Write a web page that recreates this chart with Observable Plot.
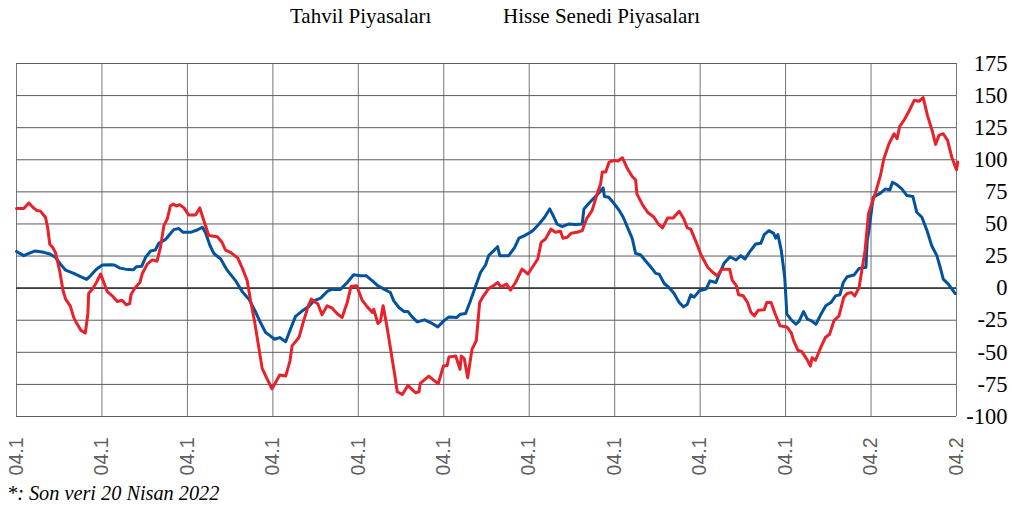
<!DOCTYPE html>
<html>
<head>
<meta charset="utf-8">
<script src="https://cdn.jsdelivr.net/npm/d3@7"></script>
<script src="https://cdn.jsdelivr.net/npm/@observablehq/plot@0.6"></script>
<style>
  html, body { margin: 0; padding: 0; background: #fff; }
  #wrap { position: relative; width: 1012px; height: 509px; overflow: hidden; }
  #legend { position: relative; height: 40px; font-family: "Liberation Serif", "Times New Roman", serif; font-size: 21px; color: #000; }
  #legend span { position: absolute; top: 4px; line-height: 24px; white-space: nowrap; }
  #caption { position: absolute; left: 7px; top: 482px; font-family: "Liberation Serif", "Times New Roman", serif; font-style: italic; font-size: 20.3px; line-height: 22px; color: #000; white-space: nowrap; }
  svg { display: block; }
  .yax text { font-family: "Liberation Serif", "Times New Roman", serif; }
  .xax text { font-family: "Liberation Sans", Arial, sans-serif; }
</style>
</head>
<body>
<div id="wrap">
  <div id="legend"></div>
  <div id="chart"></div>
  <div id="caption"></div>
</div>
<script>
// Series names (legend)
const seriesNames = ["Tahvil Piyasaları", "Hisse Senedi Piyasaları"];
const captionText = "*: Son veri 20 Nisan 2022";

// X tick positions (period index) and their labels
const tickPos = [0, 20, 40, 60, 80, 100, 120, 140, 160, 180, 200, 220];
const tickLabels = ["04.1", "04.1", "04.1", "04.1", "04.1", "04.1", "04.1", "04.1", "04.1", "04.1", "04.2", "04.2"];
const yTicks = [-100, -75, -50, -25, 0, 25, 50, 75, 100, 125, 150, 175];

// Blue series
const blueT = [0,1.7,2.9,4.4,6.4,7.8,9.1,10.3,11.5,13.4,15.0,16.4,17.3,18.7,20.1,22.0,22.9,24.2,25.5,27.3,28.1,29.3,30.2,31.4,32.5,33.3,34.9,35.9,36.8,38.0,39.0,40.7,42.3,43.5,44.2,45.3,46.2,47.8,49.3,51.3,52.8,54.4,55.9,57.1,58.3,59.4,60.4,61.6,63.0,64.1,65.3,66.9,68.4,69.6,71.2,72.7,73.9,75.8,77.4,78.9,80.5,81.9,83.3,84.4,86.0,87.5,88.3,89.5,90.7,91.6,92.6,93.8,95.5,96.9,98.6,100.0,101.2,103.0,103.9,105.1,106.1,107.2,108.6,109.8,110.5,111.7,112.6,113.1,115.2,116.6,117.6,118.9,120.3,121.0,122.3,123.6,124.8,125.6,126.5,127.7,129.3,130.8,132.4,132.8,134.2,135.5,136.7,137.3,137.6,138.6,139.8,141.0,142.0,143.0,144.1,144.9,146.1,147.2,148.4,149.6,150.4,151.6,152.7,153.9,155.1,156.1,157.0,157.8,158.6,159.8,161.4,162.3,163.7,164.4,165.6,167.0,168.4,169.5,170.5,171.5,173.0,174.2,175.0,176.1,177.2,177.7,178.2,179.0,179.8,180.3,181.2,182.4,183.2,184.2,185.1,186.1,187.1,188.2,189.4,190.6,191.7,192.7,193.5,194.4,196.0,197.2,198.3,198.8,199.1,199.5,200.5,202.2,203.4,204.4,205.0,206.0,207.2,208.4,209.8,210.7,211.9,213.1,214.2,215.4,216.2,216.9,218.1,219.7];
const blueV = [28.6,25.3,27,29,27.9,26.6,24,18.7,14,11.5,8.9,6.8,9.6,14.8,18,18.2,18,15.6,14.8,14.3,16.7,17,24,29,29.7,35,38,42,45.6,46.4,43.5,43.5,45.3,47.4,43.5,33,27,22.7,14,5.7,-2.6,-8.6,-18.2,-26.8,-34.6,-37.2,-39.8,-38.5,-41.7,-32,-22,-17.7,-14.3,-9.9,-7.8,-2.6,-0.8,-1,4.4,10.4,9.6,9.6,5.7,2.3,-0.8,-3.4,-9.9,-15.1,-18.2,-18.2,-22.4,-26.3,-24.7,-26.8,-30.2,-25.5,-22.4,-22.9,-20.3,-19.8,-11.2,-0.8,12.2,18.2,25.3,29.2,32.3,25.3,25.3,31.8,39,40.9,43.5,45.3,50,55.2,61.7,56.5,50,47.9,50,49.5,50,61.7,66.9,71.4,75.5,78.1,71.4,70.8,66.1,60.9,55.2,47.4,38.8,27.1,25.8,21.4,16.7,11.5,10.9,3.6,0.5,-4.2,-11.2,-14.6,-12.5,-5.2,-7,-2.1,-0.8,5.7,4.4,10.4,19.3,24.5,21.9,25.3,22.7,27.9,34.4,34.9,41.7,44.8,42.7,39,41.7,29.2,8.3,-20.3,-24.2,-28.1,-25.5,-18.2,-24.2,-25.5,-28.1,-20.8,-13.8,-11.2,-6,-5.2,4.4,8.9,10.2,15.4,16.1,16.1,37,44.8,70.8,74,77.3,76.5,82.5,80.7,77.3,72.1,71.4,59.1,55.2,44.8,33,25.3,16.1,7,3.1,-4.2];

// Red series
const redT = [0,1.7,2.9,4.0,4.8,5.6,6.8,7.3,7.8,8.4,9.1,10.1,10.9,11.5,12.6,13.4,14.2,15.1,16.1,16.7,16.9,17.7,18.7,19.7,20.6,21.2,22.4,23.6,24.7,25.7,26.5,26.8,27.8,28.9,29.4,30.6,31.8,32.9,33.7,34.5,35.3,36.0,36.7,37.4,38.2,39.2,40.3,41.9,42.9,43.7,45.0,47.0,48.1,48.9,50.1,51.8,52.8,54.0,54.8,55.7,56.7,57.5,58.7,59.8,60.6,61.6,63.0,64.0,64.5,66.1,67.2,68.3,69.0,70.0,70.5,71.5,72.7,73.9,75.0,76.2,77.4,78.3,79.6,80.9,82.1,83.3,83.6,84.6,85.2,85.8,86.6,87.5,88.5,89.1,90.3,91.6,92.6,93.4,94.2,94.5,96.5,97.7,98.7,99.9,100.8,101.2,102.8,103.8,104.1,104.8,105.6,106.6,107.6,108.4,109.3,110.5,111.6,112.6,113.4,114.7,115.6,116.8,118.3,118.8,119.7,120.7,122.0,122.8,123.8,125.1,126.1,127.3,127.9,128.9,129.8,131.2,132.4,133.4,134.7,135.9,136.7,137.1,137.9,138.7,139.8,140.8,141.8,143.0,144.1,144.9,145.2,146.5,147.7,149.2,150.2,151.2,152.4,153.7,155.1,156.2,157.0,157.8,159.0,160.2,161.8,163.0,164.0,165.1,166.9,167.5,168.5,169.0,170.1,171.1,171.9,172.7,173.6,175.0,175.6,176.6,177.6,178.7,180.3,181.3,181.9,182.9,183.8,185.0,185.8,186.2,187.0,188.2,189.3,190.3,191.3,192.5,193.6,194.4,195.4,196.2,197.2,197.9,198.6,199.4,200.3,201.2,202.2,203.0,204.2,205.4,206.1,206.7,207.7,208.9,210.1,211.2,212.2,213.2,214.4,215.1,215.9,216.9,217.9,218.9,220.0,220.3];
const redV = [62,62,66.4,62.5,60.4,60,55,47,34,32,28,13.5,-2,-8.6,-14,-23,-28,-33,-35,-20,-4,-1,4.4,11,3,-2.6,-6,-10.4,-9.4,-13,-12,-5,0.5,4.4,11,18.7,22,21,32,48.7,54,64,65.6,64,65,62.5,57,57,62.5,54,41,40,35.7,29.7,27.9,23.4,16,5.7,-10,-25.5,-46,-62.5,-71,-78.4,-73.7,-67.7,-68.5,-56.8,-45,-38.5,-25.5,-13.8,-8.6,-11.2,-12,-20.8,-13.8,-15.6,-19.8,-22.9,-11.2,1.3,1.8,-9.4,-14.6,-19,-16.4,-27.6,-25.5,-13.8,-28,-46.4,-67,-80.7,-82.8,-75.8,-79,-81.5,-80.7,-74.2,-68.5,-71.9,-74.5,-60.7,-60.2,-53.6,-52.9,-63.3,-52.9,-55,-69.8,-47.7,-41,-11.2,-6,-0.3,1.8,4.4,1,3.1,-1.6,4.4,14.8,13.5,11,16.1,22.7,35.7,38.3,46,43.5,44.3,38.8,39.6,42.7,43.5,44.8,53.9,60.4,73.4,81.2,90.4,90.4,98.2,99.5,99,101.6,93,87,84.4,73.4,65.1,59.1,55.2,50,46.9,54.7,54.7,59.9,53.9,46.9,46,36.4,26,16.1,12.2,9.6,14.8,14.8,6.2,1.8,-5.2,-6,-11.2,-19,-21.6,-17.2,-16.9,-11.2,-11.2,-20.3,-29.4,-30.2,-34.6,-41.1,-48.4,-49.5,-55.5,-60.7,-54.2,-56.2,-46.4,-38.5,-35.9,-25.5,-21.6,-7.3,-4.2,-3.4,-6,0.5,15,29.2,58,66.9,76,87.8,100.8,112.5,120.3,116.4,126,130.7,138,146.3,145.6,148.4,134.6,121.6,112,119,120.3,115.1,102,92.2,98.2];

const blue = blueT.map((t, i) => ({t, v: blueV[i]}));
const red = redT.map((t, i) => ({t, v: redV[i]}));

// Legend
const legend = document.getElementById("legend");
const legendLeft = [290, 503];
seriesNames.forEach((n, i) => {
  const s = document.createElement("span");
  s.textContent = n;
  s.style.left = legendLeft[i] + "px";
  legend.appendChild(s);
});
document.getElementById("caption").textContent = captionText;

const chart = Plot.plot({
  width: 1012,
  height: 442,
  marginLeft: 16,
  marginRight: 56,
  marginTop: 23,
  marginBottom: 66,
  x: {domain: [0, 220], label: null},
  y: {domain: [-100, 175], label: null},
  style: {background: "transparent"},
  marks: [
    Plot.gridX(tickPos, {stroke: "#777", strokeOpacity: 1, strokeWidth: 1}),
    Plot.gridY(yTicks, {stroke: "#5c5c5c", strokeOpacity: 1, strokeWidth: 1}),
    Plot.ruleY([0], {stroke: "#3c3c3c", strokeWidth: 1.6}),
    Plot.line(blue, {x: "t", y: "v", stroke: "#00539c", strokeWidth: 3, strokeLinejoin: "round"}),
    Plot.line(red, {x: "t", y: "v", stroke: "#e8212b", strokeWidth: 3, strokeLinejoin: "round"}),
    Plot.axisX(tickPos, {
      label: null, className: "xax",
      tickSize: 0, tickPadding: 21, tickRotate: -90,
      tickFormat: d => tickLabels[tickPos.indexOf(d)],
      fontSize: 19.5, fontFamily: "Liberation Sans", fill: "#5f5f5f"
    }),
    Plot.axisY(yTicks, {
      label: null, className: "yax",
      anchor: "right", tickSize: 0, tickPadding: 0, textAnchor: "end", dx: 51,
      tickFormat: d => String(d),
      fontSize: 22.5, fontFamily: "Liberation Serif", fill: "#000"
    })
  ]
});
document.getElementById("chart").appendChild(chart);
</script>
</body>
</html>
